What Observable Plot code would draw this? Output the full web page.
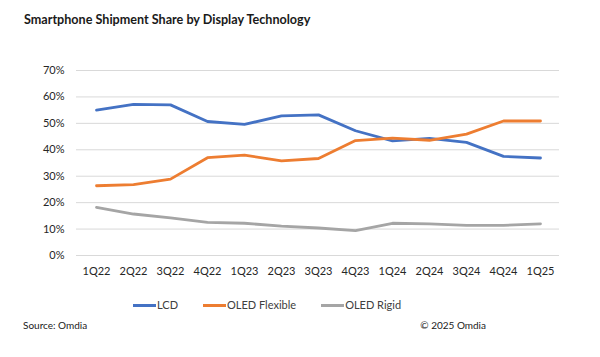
<!DOCTYPE html>
<html><head><meta charset="utf-8">
<script src="https://cdn.jsdelivr.net/npm/d3@7"></script>
<script src="https://cdn.jsdelivr.net/npm/@observablehq/plot@0.6"></script>
<style>
body{margin:0;background:#fff;font-family:Lato,"Open Sans",sans-serif;}
#wrap{position:relative;width:600px;height:357px;overflow:hidden;}
#title{position:absolute;left:24px;top:12px;font-size:12.6px;font-weight:bold;color:#1a1a1a;}
#chart{position:absolute;left:0;top:50px;}
#legend{position:absolute;left:133px;top:298px;white-space:nowrap;font-size:11px;color:#404040;}
#legend span.item{display:inline-block;margin-right:25px;}
#legend span.sw{display:inline-block;width:23px;height:3px;vertical-align:middle;margin-right:1px;position:relative;top:-1px;}
#src{position:absolute;left:23px;top:319px;font-size:10px;color:#1a1a1a;}
#copy{position:absolute;right:114px;top:319px;font-size:10px;color:#1a1a1a;}
</style></head>
<body><div id="wrap">
<div id="title">Smartphone Shipment Share by Display Technology</div>
<div id="chart"></div>
<div id="legend"></div>
<div id="src">Source: Omdia</div>
<div id="copy">© 2025 Omdia</div>
</div>
<script>
const quarters = ["1Q22","2Q22","3Q22","4Q22","1Q23","2Q23","3Q23","4Q23","1Q24","2Q24","3Q24","4Q24","1Q25"];
const lcd = [55.0,57.2,57.0,50.7,49.6,52.8,53.2,47.2,43.4,44.3,42.8,37.5,36.9];
const oledFlexible = [26.4,26.8,28.9,37.0,38.0,35.8,36.7,43.5,44.4,43.6,45.9,50.9,50.9];
const oledRigid = [18.2,15.7,14.2,12.5,12.2,11.1,10.4,9.4,12.2,12.0,11.4,11.4,12.0];
const seriesNames = ["LCD","OLED Flexible","OLED Rigid"];
const seriesColors = ["#4472C4","#ED7D31","#A5A5A5"];
const yTicks = [0,10,20,30,40,50,60,70];

const data = [];
[lcd, oledFlexible, oledRigid].forEach((arr, si) => {
  arr.forEach((v, i) => data.push({q: quarters[i], v, s: seriesNames[si]}));
});

const plot = Plot.plot({
  width: 600,
  height: 240,
  marginTop: 20,
  marginBottom: 35,
  marginLeft: 76,
  marginRight: 41,
  style: {fontFamily: "Lato, 'Open Sans', sans-serif", fontSize: "11px", color: "#262626"},
  x: {type: "point", domain: quarters, padding: 0.5, label: null},
  y: {domain: [0, 70], label: null},
  color: {domain: seriesNames, range: seriesColors},
  marks: [
    Plot.gridY(yTicks, {stroke: "#D9D9D9", strokeOpacity: 1, strokeWidth: 1}),
    Plot.axisY(yTicks, {tickSize: 0, tickPadding: 12, tickFormat: d => d + "%", fontSize: 11}),
    Plot.axisX({tickSize: 0, tickPadding: 12, fontSize: 11}),
    Plot.line(data, {x: "q", y: "v", z: "s", stroke: "s", strokeWidth: 2.8, curve: "linear"})
  ]
});
document.getElementById("chart").appendChild(plot);

const leg = document.getElementById("legend");
seriesNames.forEach((n, i) => {
  const it = document.createElement("span");
  it.className = "item";
  const sw = document.createElement("span");
  sw.className = "sw";
  sw.style.background = seriesColors[i];
  it.appendChild(sw);
  it.appendChild(document.createTextNode(n));
  leg.appendChild(it);
});
</script>
</body></html>
